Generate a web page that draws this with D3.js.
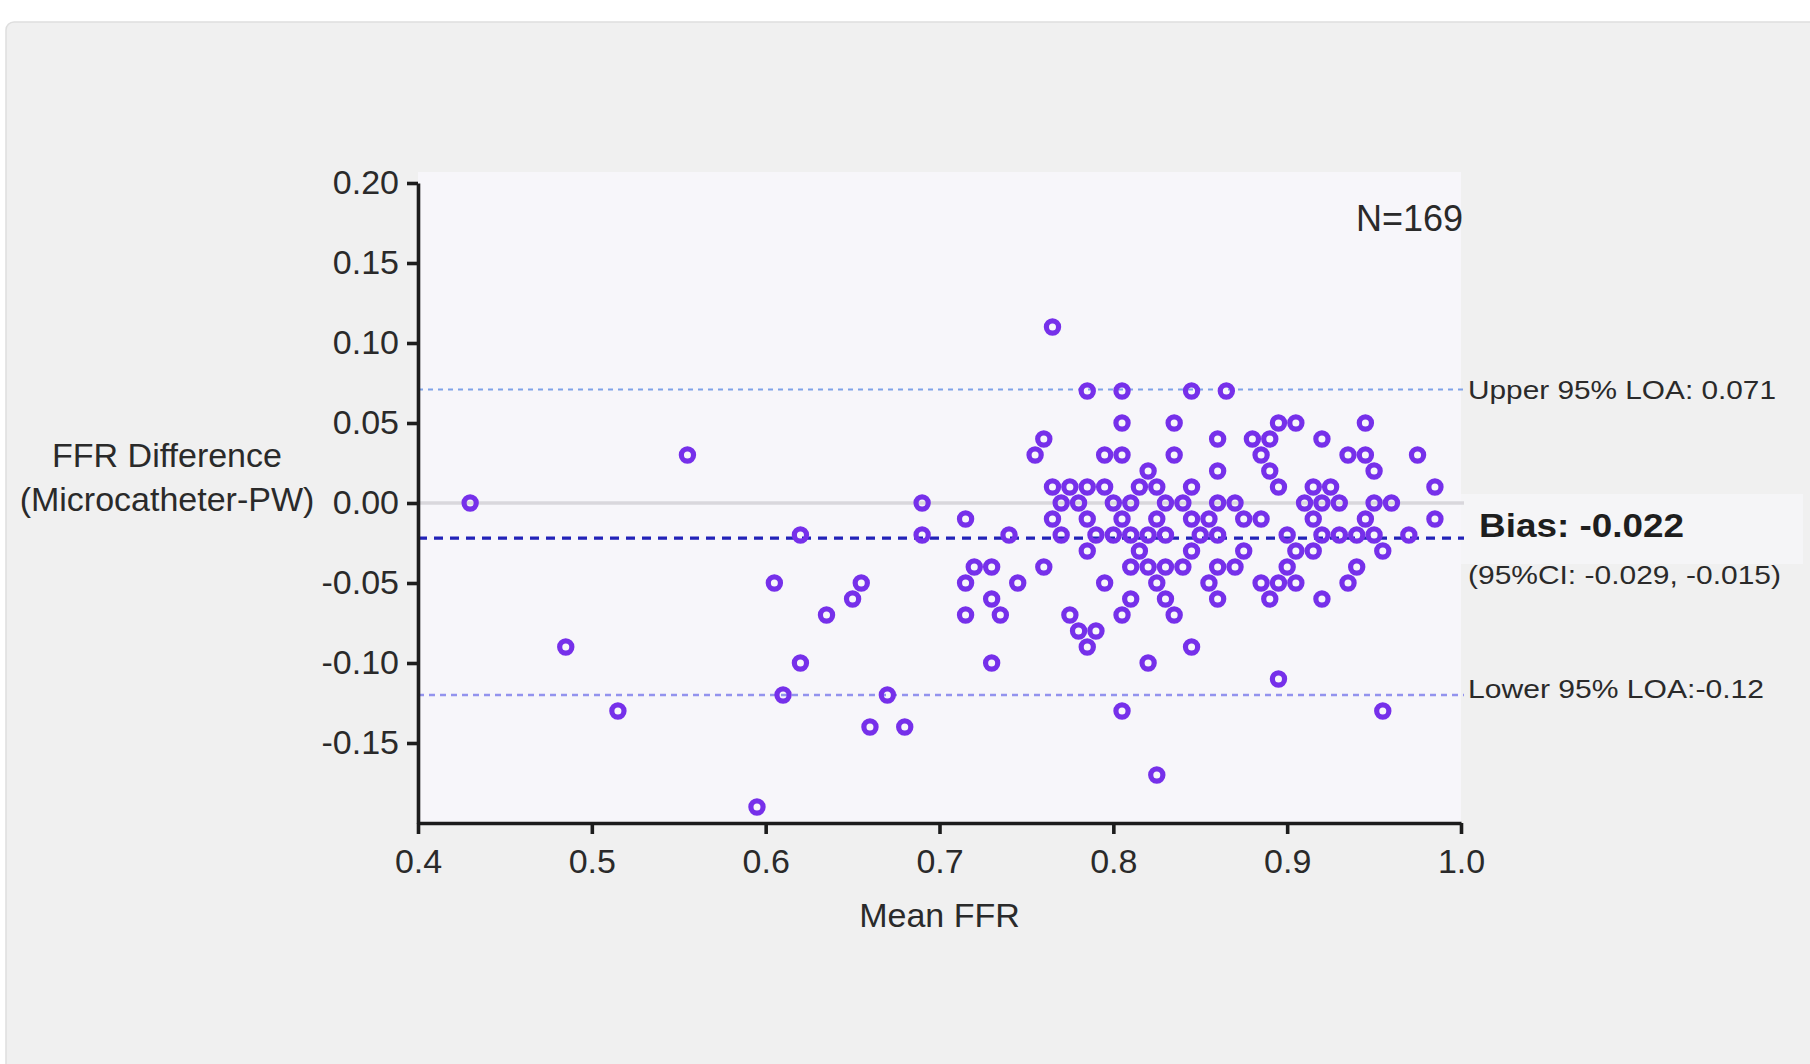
<!DOCTYPE html>
<html>
<head>
<meta charset="utf-8">
<script src="https://cdn.jsdelivr.net/npm/d3@7"></script>
<style>
  html, body { margin: 0; padding: 0; background: #ffffff; }
  svg { display: block; }
</style>
</head>
<body>
<svg id="chart" width="1810" height="1064"></svg>
<script>
// Bland-Altman data: mean of the two FFR readings and their difference.
// Measurements with identical coordinates overlap, so each distinct position is listed once.
const meanFFR = [
  0.43, 0.485, 0.515, 0.555, 0.595, 0.605, 0.61, 0.62, 0.62, 0.635, 0.65, 0.655, 0.66, 0.67, 0.68,
  0.69, 0.69, 0.715, 0.715, 0.715, 0.72, 0.73, 0.73, 0.73, 0.735, 0.74, 0.745,
  0.765,
  0.785, 0.805, 0.845, 0.865,
  0.805, 0.835, 0.895, 0.905, 0.945,
  0.76, 0.86, 0.88, 0.89, 0.92,
  0.755, 0.795, 0.805, 0.835, 0.885, 0.935, 0.945, 0.975,
  0.82, 0.86, 0.89, 0.95,
  0.765, 0.775, 0.785, 0.795, 0.815, 0.825, 0.845, 0.895, 0.915, 0.925, 0.985,
  0.77, 0.78, 0.80, 0.81, 0.83, 0.84, 0.86, 0.87, 0.91, 0.92, 0.93, 0.95, 0.96,
  0.765, 0.785, 0.805, 0.825, 0.845, 0.855, 0.875, 0.885, 0.915, 0.945, 0.985,
  0.77, 0.79, 0.80, 0.81, 0.82, 0.83, 0.85, 0.86, 0.90, 0.92, 0.93, 0.94, 0.95, 0.97,
  0.785, 0.815, 0.845, 0.875, 0.905, 0.915, 0.955,
  0.76, 0.81, 0.82, 0.83, 0.84, 0.86, 0.87, 0.90, 0.94,
  0.795, 0.825, 0.855, 0.885, 0.895, 0.905, 0.935,
  0.81, 0.83, 0.86, 0.89, 0.92,
  0.775, 0.805, 0.835,
  0.78, 0.79,
  0.785, 0.845,
  0.82,
  0.895,
  0.805, 0.955,
  0.825
];
const ffrDifference = [
  0.00, -0.09, -0.13, 0.03, -0.19, -0.05, -0.12, -0.02, -0.10, -0.07, -0.06, -0.05, -0.14, -0.12, -0.14,
  0.00, -0.02, -0.01, -0.05, -0.07, -0.04, -0.04, -0.06, -0.10, -0.07, -0.02, -0.05,
  0.11,
  0.07, 0.07, 0.07, 0.07,
  0.05, 0.05, 0.05, 0.05, 0.05,
  0.04, 0.04, 0.04, 0.04, 0.04,
  0.03, 0.03, 0.03, 0.03, 0.03, 0.03, 0.03, 0.03,
  0.02, 0.02, 0.02, 0.02,
  0.01, 0.01, 0.01, 0.01, 0.01, 0.01, 0.01, 0.01, 0.01, 0.01, 0.01,
  0.00, 0.00, 0.00, 0.00, 0.00, 0.00, 0.00, 0.00, 0.00, 0.00, 0.00, 0.00, 0.00,
  -0.01, -0.01, -0.01, -0.01, -0.01, -0.01, -0.01, -0.01, -0.01, -0.01, -0.01,
  -0.02, -0.02, -0.02, -0.02, -0.02, -0.02, -0.02, -0.02, -0.02, -0.02, -0.02, -0.02, -0.02, -0.02,
  -0.03, -0.03, -0.03, -0.03, -0.03, -0.03, -0.03,
  -0.04, -0.04, -0.04, -0.04, -0.04, -0.04, -0.04, -0.04, -0.04,
  -0.05, -0.05, -0.05, -0.05, -0.05, -0.05, -0.05,
  -0.06, -0.06, -0.06, -0.06, -0.06,
  -0.07, -0.07, -0.07,
  -0.08, -0.08,
  -0.09, -0.09,
  -0.10,
  -0.11,
  -0.13, -0.13,
  -0.17
];

const xTicks = [0.4, 0.5, 0.6, 0.7, 0.8, 0.9, 1.0];
const yTicks = [0.20, 0.15, 0.10, 0.05, 0.00, -0.05, -0.10, -0.15];

const upperLOA = 0.071;
const biasValue = -0.022;
const biasCI = [-0.029, -0.015];
const lowerLOA = -0.12;
const sampleSize = 169;

const xTitle = "Mean FFR";
const yTitleLines = ["FFR Difference", "(Microcatheter-PW)"];

// ---- drawing ----
const svg = d3.select("#chart");
const FONT = "'Liberation Sans', Arial, Helvetica, sans-serif";
const TEXT = "#2a2a2a";

const x = d3.scaleLinear().domain([0.4, 1.0]).range([418, 1461]);
const y = d3.scaleLinear().domain([-0.2, 0.2]).range([823, 183]);

// card background
svg.append("rect")
  .attr("x", 6).attr("y", 22).attr("width", 1830).attr("height", 1080)
  .attr("rx", 8)
  .attr("fill", "#f0f0f0").attr("stroke", "#dedede").attr("stroke-width", 1.5);

// plotting area
svg.append("rect")
  .attr("x", x(0.4)).attr("y", 172)
  .attr("width", x(1.0) - x(0.4)).attr("height", y(-0.2) - 172)
  .attr("fill", "#f7f6fa");

// light band behind the bias annotation
svg.append("rect")
  .attr("x", x(1.0)).attr("y", 494)
  .attr("width", 342).attr("height", 70)
  .attr("fill", "#f5f5f7");

const lineEnd = x(1.0) + 3;

// zero reference
svg.append("line")
  .attr("x1", x(0.4)).attr("x2", lineEnd)
  .attr("y1", y(0)).attr("y2", y(0))
  .attr("stroke", "#d9d7dc").attr("stroke-width", 3.5);

// limits of agreement
svg.append("line")
  .attr("x1", x(0.4)).attr("x2", lineEnd)
  .attr("y1", y(upperLOA)).attr("y2", y(upperLOA))
  .attr("stroke", "#7fa2e8").attr("stroke-width", 2)
  .attr("stroke-dasharray", "5,5");

svg.append("line")
  .attr("x1", x(0.4)).attr("x2", lineEnd)
  .attr("y1", y(lowerLOA)).attr("y2", y(lowerLOA))
  .attr("stroke", "#9393ee").attr("stroke-width", 2.5)
  .attr("stroke-dasharray", "6,5");

// bias
svg.append("line")
  .attr("x1", x(0.4)).attr("x2", lineEnd)
  .attr("y1", y(biasValue)).attr("y2", y(biasValue))
  .attr("stroke", "#2222b8").attr("stroke-width", 3.2)
  .attr("stroke-dasharray", "9,7");

// points
const points = meanFFR.map((m, i) => ({ m, d: ffrDifference[i] }));
svg.append("g")
  .selectAll("circle")
  .data(points)
  .join("circle")
  .attr("cx", p => x(p.m))
  .attr("cy", p => y(p.d))
  .attr("r", 6.1)
  .attr("fill", "none")
  .attr("stroke", "#7630ea")
  .attr("stroke-width", 5.2);

// axes
const yAxis = d3.axisLeft(y)
  .tickValues(yTicks)
  .tickFormat(d => d.toFixed(2))
  .tickSize(11).tickSizeOuter(0).tickPadding(8);
const xAxis = d3.axisBottom(x)
  .tickValues(xTicks)
  .tickFormat(d => d.toFixed(1))
  .tickSize(11).tickSizeOuter(0).tickPadding(15);

const gy = svg.append("g").attr("transform", `translate(${x(0.4)},0)`).call(yAxis);
const gx = svg.append("g").attr("transform", `translate(0,${y(-0.2)})`).call(xAxis);

[gx, gy].forEach(g => {
  g.select(".domain").attr("stroke", "#1c1c1c").attr("stroke-width", 3.6);
  g.selectAll(".tick line").attr("stroke", "#1c1c1c").attr("stroke-width", 3.6);
  g.selectAll(".tick text")
    .attr("fill", TEXT)
    .style("font-family", FONT)
    .style("font-size", "34px");
});

// axis titles
svg.append("text")
  .attr("x", (x(0.4) + x(1.0)) / 2).attr("y", 927)
  .attr("text-anchor", "middle")
  .attr("fill", TEXT)
  .style("font-family", FONT).style("font-size", "34px")
  .text(xTitle);

svg.append("g")
  .selectAll("text")
  .data(yTitleLines)
  .join("text")
  .attr("x", 167)
  .attr("y", (d, i) => 467 + i * 44)
  .attr("text-anchor", "middle")
  .attr("fill", TEXT)
  .style("font-family", FONT).style("font-size", "34px")
  .text(d => d);

// sample size
svg.append("text")
  .attr("x", 1463).attr("y", 231)
  .attr("text-anchor", "end")
  .attr("fill", TEXT)
  .style("font-family", FONT).style("font-size", "36px")
  .text(`N=${sampleSize}`);

// line annotations
const labelX = 1468;
function annotate(txt, cy, size, width, weight) {
  svg.append("text")
    .attr("x", labelX).attr("y", cy)
    .attr("dy", "0.35em")
    .attr("fill", TEXT)
    .attr("textLength", width)
    .attr("lengthAdjust", "spacingAndGlyphs")
    .style("font-family", FONT)
    .style("font-size", size + "px")
    .style("font-weight", weight || "normal")
    .text(txt);
}
annotate(`Upper 95% LOA:  ${upperLOA.toFixed(3)}`, y(upperLOA) + 1, 25, 308);
svg.append("text")
  .attr("x", 1479).attr("y", 525).attr("dy", "0.35em")
  .attr("fill", "#1e1e1e")
  .attr("textLength", 205).attr("lengthAdjust", "spacingAndGlyphs")
  .style("font-family", FONT).style("font-size", "33px").style("font-weight", "bold")
  .text(`Bias: ${biasValue.toFixed(3)}`);
annotate(`(95%CI:  ${biasCI[0].toFixed(3)}, ${biasCI[1].toFixed(3)})`, 575, 25, 313);
annotate(`Lower 95% LOA:${lowerLOA.toFixed(2)}`, y(lowerLOA) - 6, 25, 296);
</script>
</body>
</html>
